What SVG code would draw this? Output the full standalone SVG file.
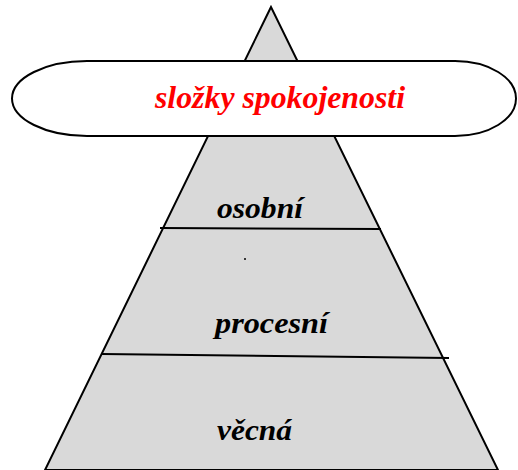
<svg xmlns="http://www.w3.org/2000/svg" width="518" height="470" viewBox="0 0 518 470">
<style>
.lbl{font-family:"Liberation Serif","Times New Roman",serif;font-weight:bold;font-style:italic;font-size:29px;fill:#000}
.title{font-family:"Liberation Serif","Times New Roman",serif;font-weight:bold;font-style:italic;font-size:31px;fill:#ff0000}
.ln{stroke:#000;stroke-width:2;fill:none}
</style>
<rect width="518" height="470" fill="#fff"/>
<g id="pyramid">
<polygon points="271,7 45,470 498,470" fill="#d9d9d9" stroke="#000" stroke-width="2"/>
</g>
<g id="connectors">
<line class="ln" x1="160" y1="228" x2="381" y2="229"/>
<line class="ln" x1="102" y1="354" x2="449" y2="358"/>
</g>
<circle cx="245" cy="259" r="1" fill="#000"/>
<g id="title">
<path d="M87,61 H455 A61,37.5 0 0 1 455,136 H87 A75,37.5 0 0 1 87,61 Z" fill="#fff" stroke="#000" stroke-width="2"/>
<text class="title" x="155" y="108" textLength="250" lengthAdjust="spacingAndGlyphs">složky spokojenosti</text>
</g>
<g id="osobni"><text class="lbl" x="217" y="218" textLength="86" lengthAdjust="spacingAndGlyphs">osobní</text></g>
<g id="procesni"><text class="lbl" x="215" y="333" textLength="113" lengthAdjust="spacingAndGlyphs">procesní</text></g>
<g id="vecna"><text class="lbl" x="217" y="440" textLength="75" lengthAdjust="spacingAndGlyphs">věcná</text></g>
</svg>
